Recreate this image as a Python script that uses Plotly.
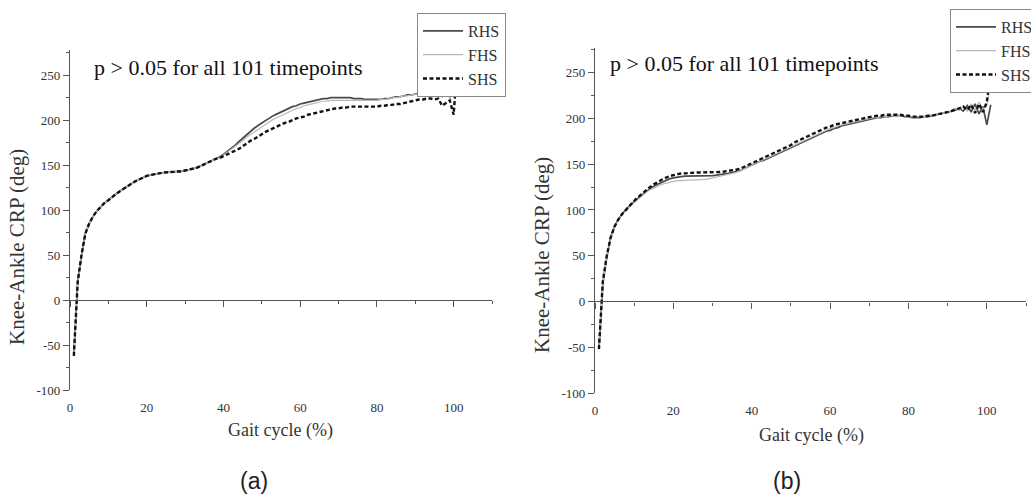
import plotly.graph_objects as go

# ---------------- data ----------------
GAIT = list(range(1, 102))  # 101 timepoints

# Panel (a)
A_RHS = [-62, 20, 50, 74, 85, 93, 99, 104, 108, 111, 115, 118, 121, 124, 127, 130, 132, 134, 136, 138,
         139, 140, 141, 141.5, 142, 142, 142.5, 143, 143, 144, 145, 146, 147, 149, 151, 153, 155, 157, 159, 162,
         165, 168, 172, 176, 180, 184, 188, 191, 194, 197, 200, 202, 205, 207, 209, 211, 213, 215, 216, 218,
         219, 220, 221, 222, 223, 224, 224, 225, 225, 225, 225, 225, 225, 224, 224, 224, 223, 223, 223, 223,
         223, 224, 224, 225, 226, 226, 227, 228, 228, 229, 230, 230, 231, 232, 231, 234, 229, 236, 226, 238,
         268]
A_FHS = [-62, 20, 50, 74, 85, 93, 99, 104, 108, 111, 115, 118, 121, 124, 127, 130, 132, 134, 136, 138,
         139, 140, 141, 141.5, 142, 142, 142.5, 143, 143, 144, 145, 146, 147, 149, 151, 153, 155, 157, 158, 161,
         164, 167, 170, 174, 177, 181, 184, 187, 190, 193, 196, 198, 201, 203, 205, 207, 209, 211, 213, 214,
         216, 217, 218, 219, 220, 221, 221, 222, 222, 222, 222, 222, 222, 222, 222, 222, 222, 222, 222, 222,
         223, 223, 224, 225, 225, 226, 227, 227, 228, 229, 229, 230, 229, 232, 227, 235, 225, 238, 224, 230,
         262]
A_SHS = [-62, 20, 50, 74, 85, 93, 99, 104, 108, 111, 115, 118, 121, 124, 127, 130, 132, 134, 136, 138,
         139, 140, 141, 141.5, 142, 142, 142.5, 143, 143, 144, 145, 146, 147, 149, 151, 153, 155, 157, 158, 160,
         162, 164, 166, 168, 171, 174, 177, 179, 182, 184, 187, 189, 191, 193, 195, 197, 198, 200, 202, 203,
         204, 206, 207, 208, 209, 210, 211, 212, 213, 213, 214, 214, 215, 215, 215, 215, 215, 215, 215, 215,
         216, 216, 217, 217, 218, 218, 219, 220, 221, 222, 223, 223, 224, 224, 223, 224, 216, 219, 222, 206,
         265]

# Panel (b)
B_RHS = [-52, 20, 48, 70, 82, 90, 96, 101, 105, 109, 113, 117, 120, 123, 126, 128, 130, 132, 134, 135,
         136, 136.5, 137, 137, 137, 137, 137, 137, 137, 137.5, 138, 138.5, 139, 140, 141, 142, 143, 145, 147, 149,
         151, 153, 154, 156, 158, 160, 162, 164, 166, 168, 170, 172, 174, 176, 178, 180, 182, 184, 186, 187,
         189, 190, 192, 193, 194, 195, 196, 197, 198, 199, 200, 201, 201, 202, 202, 203, 203, 203, 202, 202,
         201, 201, 201, 202, 202, 203, 204, 205, 206, 207, 208, 209, 211, 208, 214, 207, 216, 205, 213, 193,
         215]
B_FHS = [-50, 20, 47, 69, 81, 89, 95, 100, 104, 108, 112, 116, 119, 122, 124, 126, 128, 129, 130, 131,
         132, 132, 132.5, 133, 133, 133, 133, 133.5, 134, 135, 136, 137, 138, 139, 140, 141, 143, 145, 147, 149,
         151, 153, 155, 157, 159, 161, 163, 165, 167, 169, 171, 173, 175, 177, 179, 181, 183, 185, 187, 189,
         190, 192, 193, 194, 195, 196, 197, 198, 199, 200, 201, 201, 202, 202, 203, 203, 203, 203, 203, 202,
         202, 202, 202, 202, 203, 204, 205, 205, 206, 207, 209, 211, 209, 214, 208, 216, 209, 218, 210, 214,
         240]
B_SHS = [-52, 22, 50, 70, 82, 90, 96, 101, 106, 110, 114, 118, 122, 125, 128, 131, 133, 135, 137, 138,
         139, 140, 140, 140.5, 141, 141, 141, 141, 141, 141, 141, 141.5, 142, 142.5, 143, 144, 145, 147, 149, 151,
         153, 155, 157, 159, 161, 163, 165, 167, 169, 171, 174, 176, 178, 180, 182, 184, 186, 188, 190, 191,
         193, 194, 195, 196, 197, 198, 199, 200, 201, 201.5, 202, 203, 203, 204, 204, 204, 204, 204, 203, 203,
         202, 202, 202, 202, 203, 203, 204, 205, 206, 207, 208, 210, 211, 213, 209, 215, 206, 216, 207, 218,
         252]

SERIES = ["RHS", "FHS", "SHS"]
X_TICKS = [0, 20, 40, 60, 80, 100]
Y_TICKS = [-100, -50, 0, 50, 100, 150, 200, 250]
Y_TICK_TEXT = ["-100", "-50", "0", "50", "100", "150", "200", "250"]
NOTE = "p > 0.05 for all 101 timepoints"
Y_TITLE = "Knee-Ankle CRP (deg)"
X_TITLE = "Gait cycle (%)"
PANELS = ["(a)", "(b)"]

# ---------------- styles ----------------
W, H = 1031, 494
SERIF = "Liberation Serif, Times New Roman, serif"
SANS = "Liberation Sans, Arial, sans-serif"
AXC = "#555555"
TXT = "#333333"
STY = {
    "RHS": dict(color="#4a4a4a", width=1.7, dash="solid"),
    "FHS": dict(color="#b8b8b8", width=1.2, dash="solid"),
    "SHS": dict(color="#111111", width=2.4, dash="4px,2.5px"),
}


def px(xp, yp):
    return xp / W, 1 - yp / H


# panel geometry (pixels)
A_XD = [70 / W, 492 / W]
A_YD = [1 - 390 / H, 1 - 50 / H]
A_YR = [-100, 278]
B_XD = [595 / W, 1026 / W]
B_YD = [1 - 393 / H, 1 - 48 / H]
B_YR = [-100, 277]


def zero_pos(yd, yr):
    return yd[0] + (0 - yr[0]) / (yr[1] - yr[0]) * (yd[1] - yd[0])


fig = go.Figure()

panel_data = [
    (dict(RHS=A_RHS, FHS=A_FHS, SHS=A_SHS), "x", "x3", "y", "legend"),
    (dict(RHS=B_RHS, FHS=B_FHS, SHS=B_SHS), "x2", "x4", "y2", "legend2"),
]
for data, xa, xz, ya, lg in panel_data:
    for s in SERIES:
        fig.add_trace(go.Scatter(
            x=GAIT, y=data[s], mode="lines", name=s,
            line=dict(color=STY[s]["color"], width=STY[s]["width"], dash=STY[s]["dash"]),
            xaxis=xz if s == "SHS" else xa, yaxis=ya, legend=lg, hoverinfo="skip",
        ))


def base_x(domain, anchor):
    return dict(domain=domain, range=[0, 110], anchor=anchor, showline=False, showgrid=False,
                zeroline=False, ticks="", tickvals=X_TICKS, ticktext=[str(v) for v in X_TICKS],
                tickfont=dict(family=SERIF, size=13, color=TXT), ticklabelstandoff=8)


def zero_x(over, yd, yr):
    return dict(overlaying=over, anchor="free", position=zero_pos(yd, yr), range=[0, 110],
                showline=True, linecolor=AXC, linewidth=1.3, showgrid=False, zeroline=False,
                ticks="outside", ticklen=6, tickwidth=1.3, tickcolor=AXC, tick0=0, dtick=20,
                showticklabels=False,
                minor=dict(ticks="outside", ticklen=3, tickwidth=1, tickcolor=AXC, tick0=0, dtick=10))


def y_ax(domain, rng, anchor):
    return dict(domain=domain, range=rng, anchor=anchor, showline=True, linecolor=AXC, linewidth=1.3,
                showgrid=False, zeroline=False, ticks="outside", ticklen=6, tickwidth=1.3, tickcolor=AXC,
                tickvals=Y_TICKS, ticktext=Y_TICK_TEXT,
                tickfont=dict(family=SERIF, size=13, color=TXT),
                minor=dict(ticks="outside", ticklen=3, tickwidth=1, tickcolor=AXC, tick0=0, dtick=25))


def legend_at(xp, yp):
    lx, ly = px(xp, yp)
    return dict(x=lx, y=ly, xanchor="left", yanchor="top", bgcolor="white", bordercolor="#8a8a8a",
                borderwidth=1, font=dict(family=SERIF, size=16, color=TXT), itemwidth=40,
                tracegroupgap=0)


fig.update_layout(
    width=W, height=H, margin=dict(l=0, r=0, t=0, b=0, autoexpand=False),
    paper_bgcolor="white", plot_bgcolor="white",
    xaxis=base_x(A_XD, "y"),
    xaxis2=base_x(B_XD, "y2"),
    xaxis3=zero_x("x", A_YD, A_YR),
    xaxis4=zero_x("x2", B_YD, B_YR),
    yaxis=y_ax(A_YD, A_YR, "x"),
    yaxis2=y_ax(B_YD, B_YR, "x2"),
    legend=legend_at(417, 13),
    legend2=legend_at(950, 9),
    showlegend=True,
)

ann = []
for (xp, yp) in [(92, 67), (608, 63)]:
    ax, ay = px(xp, yp)
    ann.append(dict(x=ax, y=ay, xref="paper", yref="paper", xanchor="left", yanchor="middle",
                    text=NOTE, showarrow=False, font=dict(family=SERIF, size=22, color="#111")))
for (xp, yp) in [(17, 247), (542, 255)]:
    ax, ay = px(xp, yp)
    ann.append(dict(x=ax, y=ay, xref="paper", yref="paper", xanchor="center", yanchor="middle",
                    text=Y_TITLE, textangle=-90, showarrow=False,
                    font=dict(family=SERIF, size=21, color=TXT)))
for (xp, yp) in [(280, 430), (811, 435)]:
    ax, ay = px(xp, yp)
    ann.append(dict(x=ax, y=ay, xref="paper", yref="paper", xanchor="center", yanchor="middle",
                    text=X_TITLE, showarrow=False, font=dict(family=SERIF, size=18, color=TXT)))
for lab, (xp, yp) in zip(PANELS, [(254, 481), (787, 481)]):
    ax, ay = px(xp, yp)
    ann.append(dict(x=ax, y=ay, xref="paper", yref="paper", xanchor="center", yanchor="middle",
                    text=lab, showarrow=False, font=dict(family=SANS, size=23, color="#222")))
fig.update_layout(annotations=ann)

fig.write_html("out.html", config={"displayModeBar": False},
               post_script="document.body.style.margin='0';document.body.style.overflow='hidden';")
